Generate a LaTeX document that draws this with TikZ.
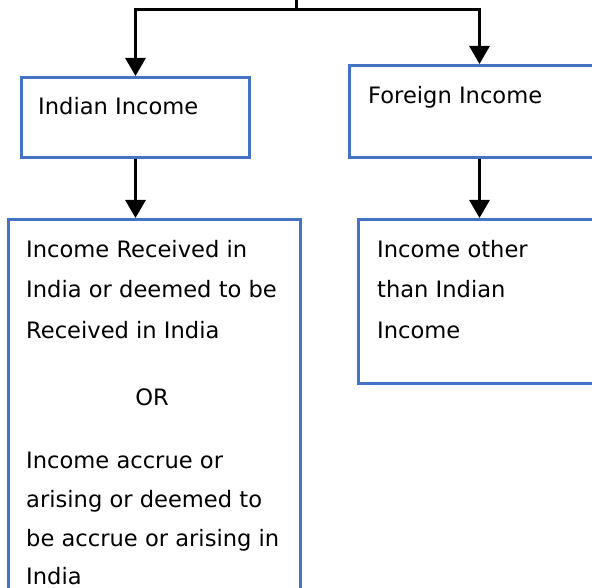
\documentclass[tikz,border=0pt]{standalone}
\usepackage{fontspec}
\setmainfont{DejaVu Sans}
\usetikzlibrary{arrows.meta}
\definecolor{boxblue}{HTML}{4472C4}
\begin{document}
\begin{tikzpicture}[x=1pt,y=-1pt,
  box/.style={draw=boxblue,line width=3pt,rectangle,inner sep=0pt,anchor=north west},
  lbl/.style={anchor=base west,inner sep=0pt,font=\fontsize{22.6}{27}\selectfont},
  link/.style={line width=3pt},
  flow/.style={link,-{Triangle[width=20pt,length=18pt]}}]
\useasboundingbox (0,0) rectangle (592,588);
\clip (0,0) rectangle (592,588);

% boxes
\node[box,minimum width=228pt,minimum height=80pt] (ind) at (20,76) {};
\node[box,minimum width=260pt,minimum height=92pt] (for) at (348,64) {};
\node[box,minimum width=292pt,minimum height=420pt] (big) at (7,218) {};
\node[box,minimum width=242pt,minimum height=164pt] (oth) at (357,218) {};

% connectors
\coordinate (top) at (296,-5);
\coordinate (split) at (296,10);
\draw[link] (top) -- (split);
\draw[flow] (split) -| (ind.north);
\draw[flow] (split) -| (for.north);
\draw[flow] (ind.south) -- (ind.south |- big.north);
\draw[flow] (for.south) -- (for.south |- oth.north);

% labels
\node[lbl] (tind) at (38,115) {Indian Income};
\node[lbl] (tfor) at (368,104) {Foreign Income};

\node[lbl] (b1) at (26,258) {Income Received in};
\node[lbl] (b2) at (26,298) {India or deemed to be};
\node[lbl] (b3) at (26,338) {Received in India};
\node[lbl,anchor=base] (bor) at (152,405) {OR};
\node[lbl] (b5) at (26,468) {Income accrue or};
\node[lbl] (b6) at (26,507) {arising or deemed to};
\node[lbl] (b7) at (26,546) {be accrue or arising in};
\node[lbl] (b8) at (26,584) {India};

\node[lbl] (o1) at (377,258) {Income other};
\node[lbl] (o2) at (377,298) {than Indian};
\node[lbl] (o3) at (377,338) {Income};
\end{tikzpicture}
\end{document}
